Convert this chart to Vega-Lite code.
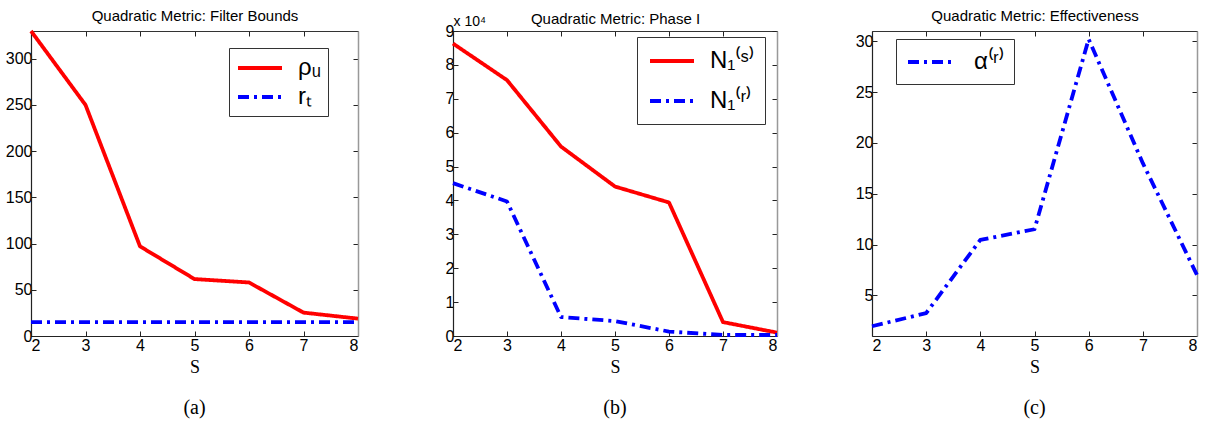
{
  "$schema": "https://vega.github.io/schema/vega-lite/v6.json",
  "padding": {"left": 5, "top": 8, "right": 5, "bottom": 2},
  "background": "white",
  "datasets": {
    "a": [
      {"S": 2, "series": "ρᵤ", "value": 330},
      {"S": 3, "series": "ρᵤ", "value": 250},
      {"S": 4, "series": "ρᵤ", "value": 97},
      {"S": 5, "series": "ρᵤ", "value": 61.6},
      {"S": 6, "series": "ρᵤ", "value": 57.9},
      {"S": 7, "series": "ρᵤ", "value": 25.3},
      {"S": 8, "series": "ρᵤ", "value": 18.8},
      {"S": 2, "series": "rₜ", "value": 15},
      {"S": 3, "series": "rₜ", "value": 15},
      {"S": 4, "series": "rₜ", "value": 15},
      {"S": 5, "series": "rₜ", "value": 15},
      {"S": 6, "series": "rₜ", "value": 15},
      {"S": 7, "series": "rₜ", "value": 15},
      {"S": 8, "series": "rₜ", "value": 15}
    ],
    "b": [
      {"S": 2, "series": "N₁⁽ˢ⁾", "value": 86300},
      {"S": 3, "series": "N₁⁽ˢ⁾", "value": 75500},
      {"S": 4, "series": "N₁⁽ˢ⁾", "value": 55900},
      {"S": 5, "series": "N₁⁽ˢ⁾", "value": 44100},
      {"S": 6, "series": "N₁⁽ˢ⁾", "value": 39400},
      {"S": 7, "series": "N₁⁽ˢ⁾", "value": 4100},
      {"S": 8, "series": "N₁⁽ˢ⁾", "value": 1000},
      {"S": 2, "series": "N₁⁽ʳ⁾", "value": 45100},
      {"S": 3, "series": "N₁⁽ʳ⁾", "value": 39700},
      {"S": 4, "series": "N₁⁽ʳ⁾", "value": 5600},
      {"S": 5, "series": "N₁⁽ʳ⁾", "value": 4400},
      {"S": 6, "series": "N₁⁽ʳ⁾", "value": 1300},
      {"S": 7, "series": "N₁⁽ʳ⁾", "value": 300},
      {"S": 8, "series": "N₁⁽ʳ⁾", "value": 300}
    ],
    "c": [
      {"S": 2, "series": "α⁽ʳ⁾", "value": 1.96},
      {"S": 3, "series": "α⁽ʳ⁾", "value": 3.25},
      {"S": 4, "series": "α⁽ʳ⁾", "value": 10.45},
      {"S": 5, "series": "α⁽ʳ⁾", "value": 11.5},
      {"S": 6, "series": "α⁽ʳ⁾", "value": 30.2},
      {"S": 7, "series": "α⁽ʳ⁾", "value": 18.0},
      {"S": 8, "series": "α⁽ʳ⁾", "value": 7.0}
    ]
  },
  "config": {
    "view": {"stroke": null},
    "font": "Liberation Sans",
    "axis": {
      "grid": false,
      "labelFont": "Liberation Sans",
      "labelFontSize": 16,
      "labelColor": "black",
      "tickColor": "#222",
      "tickSize": -5,
      "tickWidth": 1,
      "domainColor": "#222",
      "domainWidth": 1.2,
      "labelPadding": 4,
      "titleFont": "Liberation Serif",
      "titleFontWeight": "normal",
      "titleFontSize": 18,
      "titleColor": "black"
    },
    "legend": {
      "labelFont": "Liberation Sans",
      "labelColor": "black",
      "labelFontSize": 24,
      "symbolType": "M-1,0H3",
      "symbolStrokeWidth": 3.5,
      "symbolSize": 484,
      "symbolFillColor": "transparent",
      "strokeColor": "#333",
      "fillColor": "white",
      "padding": 7,
      "labelOffset": 36,
      "rowPadding": 2
    },
    "title": {
      "font": "Liberation Serif",
      "fontSize": 20,
      "fontWeight": "normal",
      "color": "black",
      "orient": "bottom",
      "anchor": "middle",
      "offset": 22
    },
    "line": {"strokeWidth": 3.8, "strokeCap": "butt", "strokeJoin": "round"}
  },
  "bounds": "flush",
  "spacing": 95,
  "resolve": {
    "scale": {"color": "independent", "strokeDash": "independent", "x": "independent", "y": "independent"},
    "legend": {"color": "independent", "strokeDash": "independent"}
  },
  "hconcat": [
    {
      "width": 327,
      "height": 305,
      "title": {"text": "(a)"},
      "data": {"name": "a"},
      "resolve": {"axis": {"x": "independent", "y": "independent"}},
      "layer": [
        {
          "mark": {"type": "line"},
          "encoding": {
            "x": {"field": "S", "type": "quantitative", "scale": {"domain": [2, 8], "nice": false, "zero": false},
                  "axis": {"orient": "bottom", "values": [2, 3, 4, 5, 6, 7, 8], "title": "S", "titlePadding": 5, "labelPadding": 6}},
            "y": {"field": "value", "type": "quantitative", "scale": {"domain": [0, 330], "nice": false},
                  "axis": {"orient": "left", "values": [0, 50, 100, 150, 200, 250, 300], "title": null}},
            "color": {"field": "series", "type": "nominal", "sort": ["ρᵤ", "rₜ"],
                      "scale": {"domain": ["ρᵤ", "rₜ"], "range": ["#ff0000", "#0000ff"]},
                      "legend": {"title": null, "orient": "none", "legendX": 198, "legendY": 17, "rowPadding": 4}},
            "strokeDash": {"field": "series", "type": "nominal", "sort": ["ρᵤ", "rₜ"],
                      "scale": {"domain": ["ρᵤ", "rₜ"], "range": [[1, 0], [11, 5, 3, 5]]},
                      "legend": {"title": null, "orient": "none", "legendX": 198, "legendY": 17, "rowPadding": 4}}
          }
        },
        {
          "mark": {"type": "line", "strokeOpacity": 0},
          "encoding": {
            "x": {"field": "S", "type": "quantitative",
                  "axis": {"orient": "top", "values": [2, 3, 4, 5, 6, 7, 8], "labels": false, "domainColor": "#333",
                           "title": "Quadratic Metric: Filter Bounds", "titleFont": "Liberation Sans", "titleFontSize": 15, "titlePadding": 7}},
            "y": {"field": "value", "type": "quantitative",
                  "axis": {"orient": "right", "values": [0, 50, 100, 150, 200, 250, 300], "labels": false, "title": null, "domainColor": "#999", "domainWidth": 1.5}},
            "detail": {"field": "series"}
          }
        }
      ]
    },
    {
      "width": 324,
      "height": 305,
      "title": {"text": "(b)"},
      "data": {"name": "b"},
      "resolve": {"axis": {"x": "independent", "y": "independent"}},
      "layer": [
        {
          "mark": {"type": "line"},
          "encoding": {
            "x": {"field": "S", "type": "quantitative", "scale": {"domain": [2, 8], "nice": false, "zero": false},
                  "axis": {"orient": "bottom", "values": [2, 3, 4, 5, 6, 7, 8], "title": "S", "titlePadding": 5, "labelPadding": 6}},
            "y": {"field": "value", "type": "quantitative", "scale": {"domain": [0, 90000], "nice": false},
                  "axis": {"orient": "left", "values": [0, 10000, 20000, 30000, 40000, 50000, 60000, 70000, 80000, 90000],
                           "labelExpr": "format(datum.value / 10000, 'd')",
                           "title": "x 10⁴", "titleAngle": 0, "titleAlign": "left", "titleBaseline": "alphabetic",
                           "titleX": 0, "titleY": -6, "titleFont": "Liberation Sans", "titleFontSize": 14}},
            "color": {"field": "series", "type": "nominal", "sort": ["N₁⁽ˢ⁾", "N₁⁽ʳ⁾"],
                      "scale": {"domain": ["N₁⁽ˢ⁾", "N₁⁽ʳ⁾"], "range": ["#ff0000", "#0000ff"]},
                      "legend": {"title": null, "orient": "none", "legendX": 184, "legendY": 6, "rowPadding": 15, "padding": 11}},
            "strokeDash": {"field": "series", "type": "nominal", "sort": ["N₁⁽ˢ⁾", "N₁⁽ʳ⁾"],
                      "scale": {"domain": ["N₁⁽ˢ⁾", "N₁⁽ʳ⁾"], "range": [[1, 0], [11, 5, 3, 5]]},
                      "legend": {"title": null, "orient": "none", "legendX": 184, "legendY": 6, "rowPadding": 15, "padding": 11}}
          }
        },
        {
          "mark": {"type": "line", "strokeOpacity": 0},
          "encoding": {
            "x": {"field": "S", "type": "quantitative",
                  "axis": {"orient": "top", "values": [2, 3, 4, 5, 6, 7, 8], "labels": false, "domainColor": "#333",
                           "title": "Quadratic Metric: Phase I", "titleFont": "Liberation Sans", "titleFontSize": 15, "titlePadding": 4}},
            "y": {"field": "value", "type": "quantitative",
                  "axis": {"orient": "right", "values": [0, 10000, 20000, 30000, 40000, 50000, 60000, 70000, 80000, 90000], "labels": false, "title": null, "domainColor": "#999", "domainWidth": 1.5}},
            "detail": {"field": "series"}
          }
        }
      ]
    },
    {
      "width": 325,
      "height": 305,
      "title": {"text": "(c)"},
      "data": {"name": "c"},
      "resolve": {"axis": {"x": "independent", "y": "independent"}},
      "layer": [
        {
          "mark": {"type": "line"},
          "encoding": {
            "x": {"field": "S", "type": "quantitative", "scale": {"domain": [2, 8], "nice": false, "zero": false},
                  "axis": {"orient": "bottom", "values": [2, 3, 4, 5, 6, 7, 8], "title": "S", "titlePadding": 5, "labelPadding": 6}},
            "y": {"field": "value", "type": "quantitative", "scale": {"domain": [1, 31], "nice": false, "zero": false},
                  "axis": {"orient": "left", "values": [5, 10, 15, 20, 25, 30], "title": null}},
            "color": {"field": "series", "type": "nominal",
                      "scale": {"domain": ["α⁽ʳ⁾"], "range": ["#0000ff"]},
                      "legend": {"title": null, "orient": "none", "legendX": 24, "legendY": 8, "padding": 10, "labelOffset": 42}},
            "strokeDash": {"field": "series", "type": "nominal",
                      "scale": {"domain": ["α⁽ʳ⁾"], "range": [[11, 5, 3, 5]]},
                      "legend": {"title": null, "orient": "none", "legendX": 24, "legendY": 8, "padding": 10, "labelOffset": 42}}
          }
        },
        {
          "mark": {"type": "line", "strokeOpacity": 0},
          "encoding": {
            "x": {"field": "S", "type": "quantitative",
                  "axis": {"orient": "top", "values": [2, 3, 4, 5, 6, 7, 8], "labels": false, "domainColor": "#333",
                           "title": "Quadratic Metric: Effectiveness", "titleFont": "Liberation Sans", "titleFontSize": 15, "titlePadding": 7}},
            "y": {"field": "value", "type": "quantitative",
                  "axis": {"orient": "right", "values": [5, 10, 15, 20, 25, 30], "labels": false, "title": null, "domainColor": "#999", "domainWidth": 1.5}},
            "detail": {"field": "series"}
          }
        }
      ]
    }
  ]
}
